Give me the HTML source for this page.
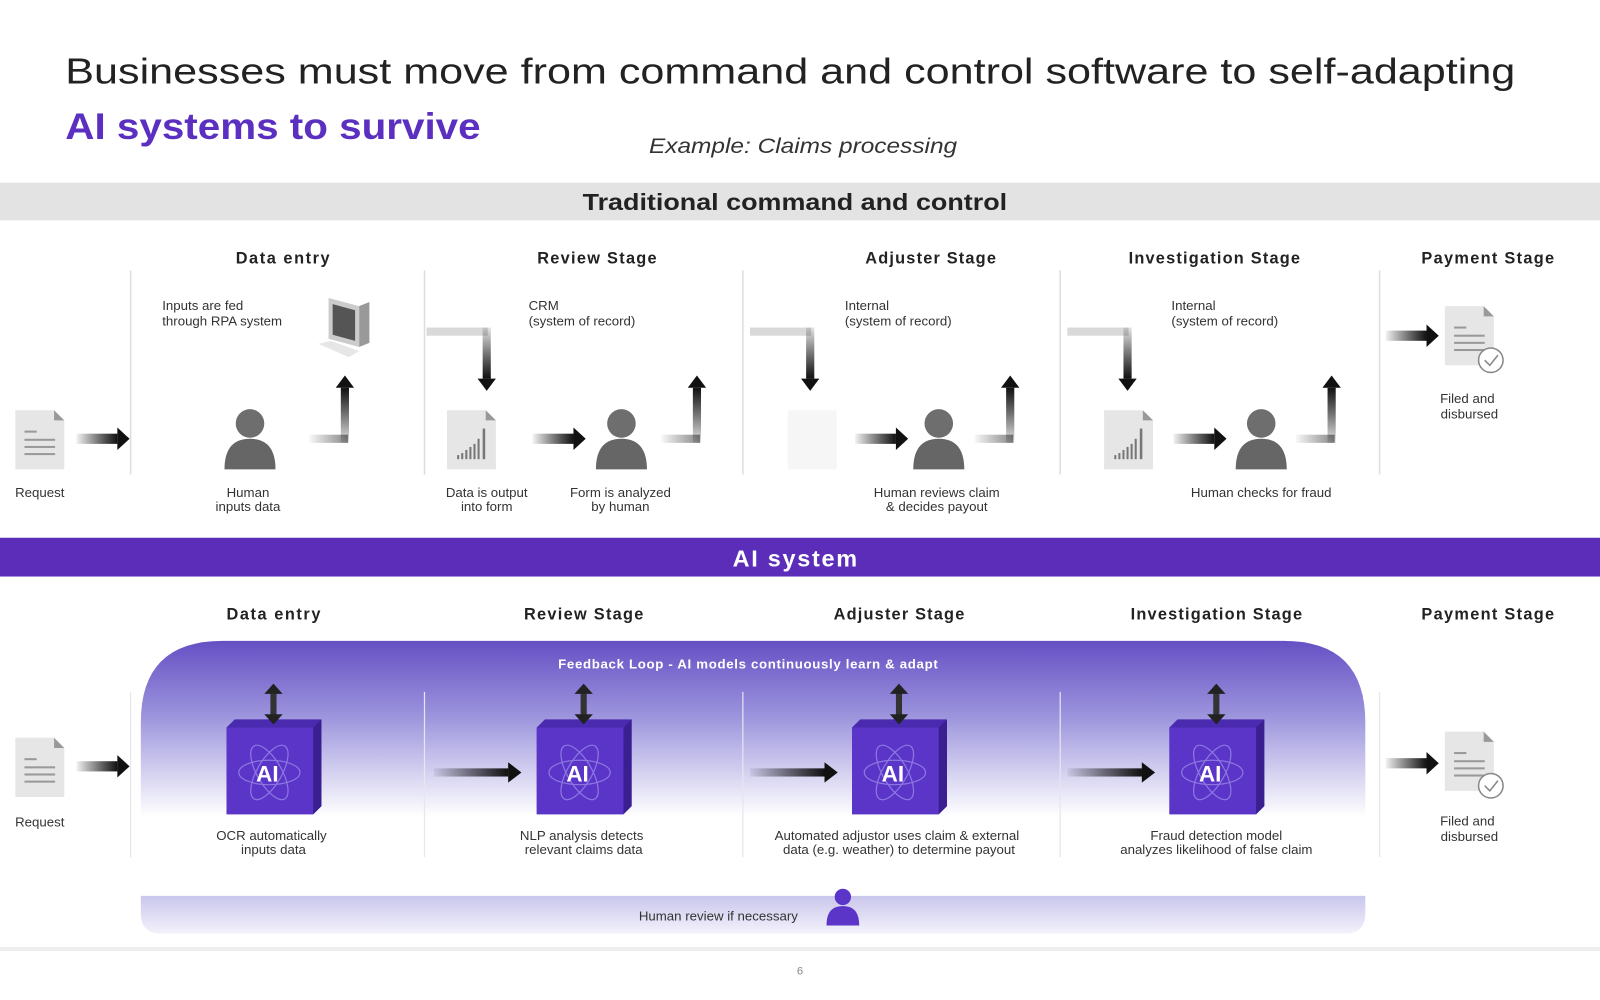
<!DOCTYPE html>
<html><head><meta charset="utf-8"><style>
html,body{margin:0;padding:0;background:#fff;width:1600px;height:1000px;overflow:hidden}
svg{display:block}
text{font-family:"Liberation Sans","DejaVu Sans",sans-serif}
</style></head><body>
<svg width="1600" height="1000" viewBox="0 0 1568 980" xmlns="http://www.w3.org/2000/svg">
<defs>
<linearGradient id="ha" x1="0" x2="1" y1="0" y2="0"><stop offset="0" stop-color="#000" stop-opacity="0.05"/><stop offset="1" stop-color="#111"/></linearGradient>
<linearGradient id="va" x1="0" x2="0" y1="1" y2="0"><stop offset="0" stop-color="#000" stop-opacity="0.1"/><stop offset="1" stop-color="#111"/></linearGradient>
<linearGradient id="vd" x1="0" x2="0" y1="0" y2="1"><stop offset="0" stop-color="#000" stop-opacity="0.1"/><stop offset="1" stop-color="#111"/></linearGradient>
<linearGradient id="loop" x1="0" x2="0" y1="0" y2="1"><stop offset="0" stop-color="#6650c4"/><stop offset="0.25" stop-color="#9a92dc"/><stop offset="0.6" stop-color="#fff"/><stop offset="1" stop-color="#fff"/></linearGradient>
<linearGradient id="band" x1="0" x2="0" y1="0" y2="1"><stop offset="0" stop-color="#c9c6ec"/><stop offset="1" stop-color="#f3f2fb"/></linearGradient>
<linearGradient id="cyl" x1="0" x2="1"><stop offset="0" stop-color="#888"/><stop offset="0.5" stop-color="#666"/><stop offset="1" stop-color="#444"/></linearGradient>
<linearGradient id="pgrad" x1="0" x2="0" y1="0" y2="1"><stop offset="0" stop-color="#777"/><stop offset="1" stop-color="#555"/></linearGradient>
<g id="doc"><path d="M0 0 H38 L48 10 V58 H0 Z" fill="#e6e6e6"/><path d="M38 0 L48 10 H38Z" fill="#999"/></g>
<g id="person"><circle cx="0" cy="-15" r="14" fill="#6e6e6e"/><path d="M-25 30 C-25 7 -14 0 0 0 C14 0 25 7 25 30 Z" fill="#666"/></g>
<g id="cyl"><rect x="-21" y="-22" width="42" height="50" fill="url(#cyl)"/><ellipse cx="0" cy="28" rx="21" ry="5" fill="#555"/><ellipse cx="0" cy="-22" rx="21" ry="5" fill="#999"/></g>
<g id="harrow"><rect x="0" y="-5" width="40" height="10" fill="url(#ha)"/><path d="M40 -11 L52 0 L40 11Z" fill="#111"/></g>
<g id="upel"><rect x="0" y="-4" width="38" height="8" fill="url(#ha)" opacity="0.5"/><rect x="31" y="-50" width="8" height="54" fill="url(#va)"/><path d="M26 -50 L35 -62 L44 -50Z" fill="#111"/></g>
<g id="dnel"><rect x="0" y="-4" width="60" height="8" fill="#000" opacity="0.15"/><rect x="55" y="-4" width="8" height="50" fill="url(#vd)"/><path d="M50 46 L59 58 L68 46Z" fill="#111"/></g>
<g id="chartdoc"><use href="#doc"/><g fill="#777"><rect x="10" y="44" width="2" height="4"/><rect x="14" y="42" width="2" height="6"/><rect x="18" y="39" width="2" height="9"/><rect x="22" y="36" width="2" height="12"/><rect x="26" y="33" width="2" height="15"/><rect x="30" y="28" width="2" height="20"/><rect x="35" y="18" width="2.5" height="30"/></g></g>
<g id="txtdoc"><use href="#doc"/><g fill="#999"><rect x="9" y="20" width="12" height="2"/><rect x="9" y="28" width="30" height="2"/><rect x="9" y="35" width="30" height="2"/><rect x="9" y="42" width="30" height="2"/></g></g>
<g id="cube"><path d="M0 8 L8 0 H93 V85 L85 93 H0 Z" fill="#4a2bb0"/><rect x="0" y="8" width="85" height="85" fill="#5a35c8"/><path d="M85 8 L93 0 V85 L85 93Z" fill="#3a1f90"/><g fill="none" stroke="#9a88e8" stroke-width="1.2" opacity="0.8"><ellipse cx="42" cy="52" rx="30" ry="12"/><ellipse cx="42" cy="52" rx="30" ry="12" transform="rotate(60 42 52)"/><ellipse cx="42" cy="52" rx="30" ry="12" transform="rotate(-60 42 52)"/></g><text x="40" y="61" font-size="22" font-weight="bold" fill="#fff" text-anchor="middle">AI</text></g>
<g id="dbl"><rect x="-3" y="-12" width="6" height="24" fill="#333"/><path d="M-9 -10 L0 -20 L9 -10Z M-9 10 L0 20 L9 10Z" fill="#222"/></g>
<g id="payd"><use href="#txtdoc"/><circle cx="45" cy="53" r="12" fill="#fff" stroke="#888" stroke-width="1.5"/><path d="M39 53 L44 58 L52 48" fill="none" stroke="#888" stroke-width="1.5"/></g>
</defs>

<text x="64" y="82" font-size="35" fill="#222" textLength="1421" lengthAdjust="spacingAndGlyphs">Businesses must move from command and control software to self-adapting</text>
<text x="64" y="136" font-size="36" font-weight="bold" fill="#5b2fc0" textLength="407" lengthAdjust="spacingAndGlyphs">AI systems to survive</text>
<text x="636" y="150" font-size="21" font-style="italic" fill="#333" textLength="302" lengthAdjust="spacingAndGlyphs">Example: Claims processing</text>

<rect x="0" y="179" width="1568" height="37" fill="#e3e3e3"/>
<text x="571" y="206" font-size="23" font-weight="bold" fill="#222" textLength="416" lengthAdjust="spacingAndGlyphs">Traditional command and control</text>

<g font-size="16" font-weight="bold" fill="#222" text-anchor="middle">
<text x="277" y="258" textLength="92">Data entry</text><text x="585" y="258" textLength="117">Review Stage</text><text x="912" y="258" textLength="128">Adjuster Stage</text><text x="1190" y="258" textLength="168">Investigation Stage</text><text x="1458" y="258" textLength="130">Payment Stage</text>
</g>
<g stroke="#ddd" stroke-width="1.5"><line x1="128" y1="265" x2="128" y2="465"/><line x1="416" y1="265" x2="416" y2="465"/><line x1="728" y1="265" x2="728" y2="465"/><line x1="1039" y1="265" x2="1039" y2="465"/><line x1="1352" y1="265" x2="1352" y2="465"/></g>

<use href="#txtdoc" x="15" y="402"/>
<use href="#harrow" x="75" y="430"/>
<use href="#person" x="245" y="430"/>
<use href="#upel" x="303" y="430"/>
<g transform="translate(312,292)"><path d="M10 0 L40 8 V48 L10 40Z" fill="#ccc"/><path d="M14 6 L36 12 V42 L14 36Z" fill="#555"/><path d="M40 8 L50 4 V44 L40 48Z" fill="#999"/><path d="M0 45 L30 58 L40 52 L12 42Z" fill="#e6e6e6"/></g>
<g font-size="13" fill="#333"><text x="159" y="304">Inputs are fed</text><text x="159" y="319">through RPA system</text></g>

<use href="#dnel" x="418" y="325"/>
<use href="#chartdoc" x="438" y="402"/>
<use href="#harrow" x="522" y="430"/>
<use href="#person" x="609" y="430"/>
<use href="#upel" x="648" y="430"/>
<use href="#cyl" x="683" y="322"/>
<g font-size="13" fill="#333"><text x="518" y="304">CRM</text><text x="518" y="319">(system of record)</text></g>

<use href="#dnel" x="735" y="325"/>
<rect x="772" y="402" width="48" height="58" fill="#f6f6f6"/>
<use href="#harrow" x="838" y="430"/>
<use href="#person" x="920" y="430"/>
<use href="#upel" x="955" y="430"/>
<use href="#cyl" x="990" y="322"/>
<g font-size="13" fill="#333"><text x="828" y="304">Internal</text><text x="828" y="319">(system of record)</text></g>

<use href="#dnel" x="1046" y="325"/>
<use href="#chartdoc" x="1082" y="402"/>
<use href="#harrow" x="1150" y="430"/>
<use href="#person" x="1236" y="430"/>
<use href="#upel" x="1270" y="430"/>
<use href="#cyl" x="1305" y="322"/>
<g font-size="13" fill="#333"><text x="1148" y="304">Internal</text><text x="1148" y="319">(system of record)</text></g>

<use href="#harrow" x="1358" y="329"/>
<use href="#payd" x="1416" y="300"/>

<g font-size="13" fill="#333" text-anchor="middle">
<text x="39" y="487">Request</text>
<text x="243" y="487">Human</text><text x="243" y="501">inputs data</text>
<text x="477" y="487">Data is output</text><text x="477" y="501">into form</text>
<text x="608" y="487">Form is analyzed</text><text x="608" y="501">by human</text>
<text x="918" y="487">Human reviews claim</text><text x="918" y="501">&amp; decides payout</text>
<text x="1236" y="487">Human checks for fraud</text>
<text x="1438" y="395">Filed and</text><text x="1440" y="410">disbursed</text>
</g>

<rect x="0" y="527" width="1568" height="38" fill="#5b2db8"/>
<text x="779" y="555" font-size="23" font-weight="bold" fill="#fff" text-anchor="middle" textLength="122">AI system</text>

<g font-size="16" font-weight="bold" fill="#222" text-anchor="middle">
<text x="268" y="607" textLength="92">Data entry</text><text x="572" y="607" textLength="117">Review Stage</text><text x="881" y="607" textLength="128">Adjuster Stage</text><text x="1192" y="607" textLength="168">Investigation Stage</text><text x="1458" y="607" textLength="130">Payment Stage</text>
</g>

<path d="M138 915 V708 Q138 628 218 628 H1258 Q1338 628 1338 708 V915 Z" fill="url(#loop)"/>
<path d="M138 878 H1338 V895 Q1338 915 1318 915 H158 Q138 915 138 895Z" fill="url(#band)"/>
<text x="733" y="655" font-size="13" font-weight="bold" fill="#fff" text-anchor="middle" textLength="372">Feedback Loop - AI models continuously learn &amp; adapt</text>
<g stroke="#e6e6ee" stroke-width="1.2"><line x1="128" y1="678" x2="128" y2="840"/><line x1="416" y1="678" x2="416" y2="840"/><line x1="728" y1="678" x2="728" y2="840"/><line x1="1039" y1="678" x2="1039" y2="840"/><line x1="1352" y1="678" x2="1352" y2="840"/></g>

<use href="#txtdoc" x="15" y="723"/>
<use href="#harrow" x="75" y="751"/>
<use href="#cube" x="222" y="705"/><use href="#dbl" x="268" y="690"/>
<g transform="translate(425,757) scale(1.7,1)"><rect x="0" y="-4" width="43" height="8" fill="url(#ha)"/></g><path d="M498 747 L511 757 L498 767Z" fill="#111"/>
<use href="#cube" x="526" y="705"/><use href="#dbl" x="572" y="690"/>
<g transform="translate(735,757) scale(1.7,1)"><rect x="0" y="-4" width="43" height="8" fill="url(#ha)"/></g><path d="M808 747 L821 757 L808 767Z" fill="#111"/>
<use href="#cube" x="835" y="705"/><use href="#dbl" x="881" y="690"/>
<g transform="translate(1046,757) scale(1.7,1)"><rect x="0" y="-4" width="43" height="8" fill="url(#ha)"/></g><path d="M1119 747 L1132 757 L1119 767Z" fill="#111"/>
<use href="#cube" x="1146" y="705"/><use href="#dbl" x="1192" y="690"/>
<use href="#harrow" x="1358" y="748"/>
<use href="#payd" x="1416" y="717"/>
<g font-size="13" fill="#333" text-anchor="middle">
<text x="39" y="810">Request</text>
<text x="266" y="823">OCR automatically</text><text x="268" y="837">inputs data</text>
<text x="570" y="823">NLP analysis detects</text><text x="572" y="837">relevant claims data</text>
<text x="879" y="823">Automated adjustor uses claim &amp; external</text><text x="881" y="837">data (e.g. weather) to determine payout</text>
<text x="1192" y="823">Fraud detection model</text><text x="1192" y="837">analyzes likelihood of false claim</text>
<text x="1438" y="809">Filed and</text><text x="1440" y="824">disbursed</text>
<text x="704" y="902">Human review if necessary</text>
</g>
<g transform="translate(826,890)"><circle cx="0" cy="-11" r="8" fill="#5a35c8"/><path d="M-16 17 C-16 2 -9 -2 0 -2 C9 -2 16 2 16 17Z" fill="#5a35c8"/></g>

<rect x="0" y="928" width="1568" height="4" fill="#eee"/>
<text x="784" y="955" font-size="11" fill="#888" text-anchor="middle">6</text>
</svg>
</body></html>
